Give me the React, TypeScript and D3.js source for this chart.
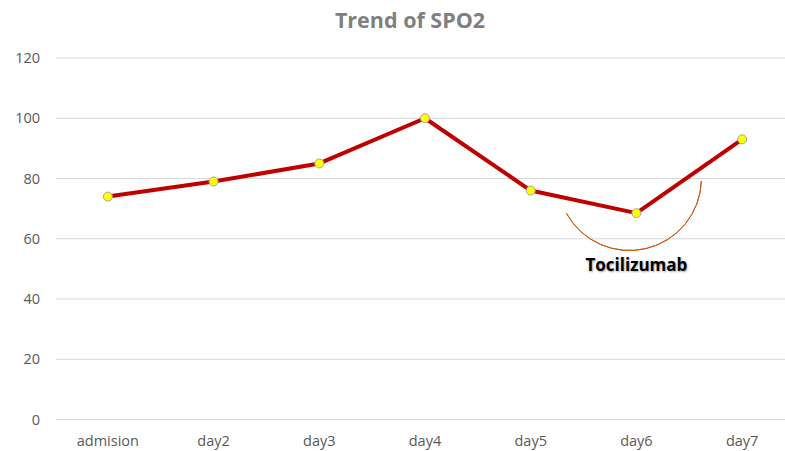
import React from 'react';
import * as d3 from 'd3';

const categories = ['admision', 'day2', 'day3', 'day4', 'day5', 'day6', 'day7'];
const spo2 = [74, 79, 85, 100, 76, 68.5, 93];
const yTicks = [0, 20, 40, 60, 80, 100, 120];
const title = 'Trend of SPO2';
const noteLabel = 'Tocilizumab';
const noteAt = 'day6';

const W = 785;
const H = 451;

export default function App() {
  const x = d3.scaleBand().domain(categories).range([55, 795]);
  const y = d3.scaleLinear().domain([0, 120]).range([419.5, 58]);
  const cx = (c: string) => (x(c) as number) + x.bandwidth() / 2;

  const line = d3
    .line<number>()
    .x((_, i) => cx(categories[i]))
    .y((d) => y(d));

  // annotation arc round the day6 point
  const ax = cx(noteAt) - 7;
  const ay = y(80);
  const r = 72;
  const arc = d3.arc()({
    innerRadius: r,
    outerRadius: r,
    startAngle: (92 * Math.PI) / 180,
    endAngle: (241 * Math.PI) / 180,
  } as any);

  const font = '"Open Sans", "Liberation Sans", sans-serif';

  return (
    <svg width={W} height={H} style={{ position: 'absolute', left: 0, top: 0, background: '#fff' }}>
      <text x={410} y={28} textAnchor="middle" fontFamily={font} fontWeight="bold" fontSize={21.5} fill="#7f7f7f">
        {title}
      </text>
      {yTicks.map((t) => (
        <g key={t}>
          <line x1={56} x2={W} y1={y(t)} y2={y(t)} stroke="#d9d9d9" strokeWidth={1} />
          <text x={40} y={y(t) + 5} textAnchor="end" fontFamily={font} fontSize={14.5} fill="#595959">
            {t}
          </text>
        </g>
      ))}
      {categories.map((c) => (
        <text key={c} x={cx(c)} y={446} textAnchor="middle" fontFamily={font} fontSize={14.5} fill="#595959">
          {c}
        </text>
      ))}
      <path d={arc as string} transform={`translate(${ax},${ay})`} fill="none" stroke="#c55a11" strokeWidth={1} />
      <path d={line(spo2) as string} fill="none" stroke="#c00000" strokeWidth={4} strokeLinejoin="round" />
      {spo2.map((v, i) => (
        <circle key={i} cx={cx(categories[i])} cy={y(v)} r={4.5} fill="#ffff00" stroke="#a5a5a5" strokeWidth={1} />
      ))}
      <text
        x={cx(noteAt)}
        y={y(80) + 92}
        textAnchor="middle"
        fontFamily={font}
        fontWeight="bold"
        fontSize={17}
        fill="#000"
        style={{ textShadow: '1px 1px 2px rgba(0,0,0,0.35)' }}
      >
        {noteLabel}
      </text>
    </svg>
  );
}
